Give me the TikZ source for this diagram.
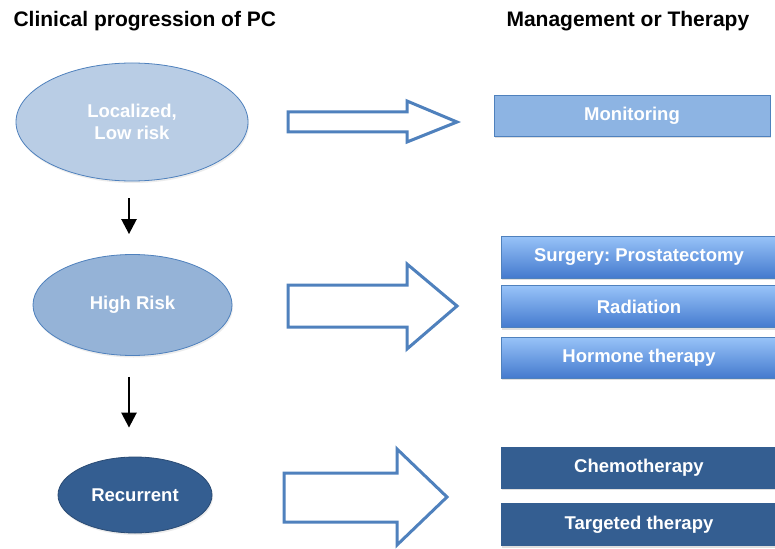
\documentclass[tikz,border=0pt]{standalone}
\usepackage{fontspec}
\setmainfont{Liberation Sans}
\frenchspacing
\usetikzlibrary{positioning,shapes.geometric,arrows.meta,shadows}

\definecolor{edgeblue}{RGB}{79,129,189}
\definecolor{lowfill}{RGB}{185,205,229}
\definecolor{highfill}{RGB}{149,179,215}
\definecolor{recfill}{RGB}{52,94,145}
\definecolor{monfill}{RGB}{141,180,227}
\definecolor{gradtop}{RGB}{152,195,248}
\definecolor{gradbot}{RGB}{68,122,206}

\tikzset{
  stage/.style={ellipse, draw=edgeblue, line width=0.8pt, text=white,
    font=\fontsize{18.5}{22}\selectfont\bfseries, align=center,
    drop shadow={opacity=0.15, shadow xshift=1pt, shadow yshift=-2pt}},
  therapy/.style={rectangle, draw=edgeblue, line width=0.6pt, text=white,
    minimum width=276pt, minimum height=41pt, inner sep=0pt,
    font=\fontsize{18.5}{22}\selectfont\bfseries,
    drop shadow={opacity=0.25, shadow xshift=1pt, shadow yshift=-2pt}},
  heading/.style={anchor=base west, font=\fontsize{21}{25}\selectfont\bfseries},
  bigarrow/.style={draw=edgeblue, line width=3pt, fill=white, line join=miter},
  down/.style={-{Triangle[width=15pt,length=15pt]}, line width=2.5pt}
}

\begin{document}
\begin{tikzpicture}[x=1pt, y=-1pt]
\clip (0,0) rectangle (775,548);
\fill[white] (0,0) rectangle (775,548);

% Column headings
\node[heading] (lefthead) at (10,27) {Clinical progression of PC};
\node[heading] (righthead) at (503,27) {Management or Therapy};

% Stages of the disease
\node[stage, fill=lowfill, minimum width=232pt, minimum height=118pt] (low) at (132,122) {Localized,\\Low risk};
\node[stage, fill=highfill, minimum width=199pt, minimum height=101pt] (high) at (132.5,305) {High Risk};
\node[stage, fill=recfill, draw=recfill!80!black, minimum width=154pt, minimum height=76pt] (rec) at (135,495) {Recurrent};

% Small arrows between the stages
\draw[down] ([xshift=-3pt, yshift=-17pt]low.south) -- ([xshift=-3.5pt, yshift=20pt]high.north);
\draw[down] ([xshift=-3.5pt, yshift=-21pt]high.south) -- ([xshift=-6pt, yshift=29pt]rec.north);

% Hollow arrows towards the therapies
\draw[bigarrow] (288,112) -- (407,112) -- (407,101) -- (457,122) -- (407,142) -- (407,132) -- (288,132) -- cycle;
\draw[bigarrow] (288,285) -- (407,285) -- (407,264) -- (457,306) -- (407,349) -- (407,327) -- (288,327) -- cycle;
\draw[bigarrow] (284,473) -- (397,473) -- (397,449) -- (447,497) -- (397,545) -- (397,522) -- (284,522) -- cycle;

% Therapies
\node[therapy, fill=monfill] (monitor) at (632,115.5) {Monitoring};
\node[therapy, top color=gradtop, bottom color=gradbot, minimum height=42pt] (surgery) at (639,257) {Surgery: Prostatectomy};
\node[therapy, top color=gradtop, bottom color=gradbot, minimum height=42pt, below=7pt of surgery] (radiation) {Radiation};
\node[therapy, top color=gradtop, bottom color=gradbot, below=9pt of radiation] (hormone) {Hormone therapy};
\node[therapy, fill=recfill, draw=recfill] (chemo) at (639,467.5) {Chemotherapy};
\node[therapy, fill=recfill, draw=recfill, minimum height=42pt, below=15pt of chemo] (targeted) {Targeted therapy};
\end{tikzpicture}
\end{document}
